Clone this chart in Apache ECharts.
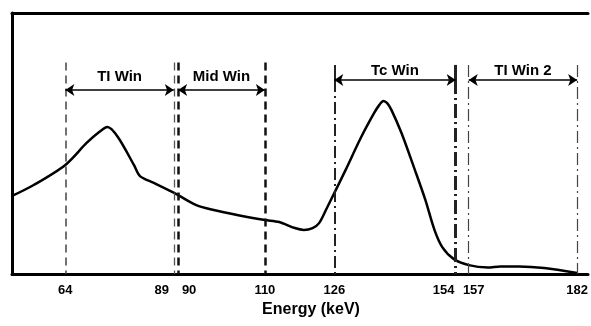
<!DOCTYPE html>
<html><head><meta charset="utf-8">
<script src="https://cdn.jsdelivr.net/npm/echarts@6/dist/echarts.min.js"></script>
<style>html,body{margin:0;padding:0;background:#fff}#c{width:591px;height:326px}</style>
</head><body><div id="c"></div>
<script>
// Spectrum curve (energy in keV, relative counts)
const energy = [51.7,56.7,64,68.9,71.8,73.7,76.1,79.8,81.2,84.4,89.5,94.2,98.2,103.6,110,113.3,116.9,119.0,121.0,122.5,124.3,126,128.6,132.1,135.2,136.4,137.3,138.2,139.2,141.5,144.6,147.0,149.1,150.9,153.5,157,161.4,164.3,168.6,174.4,182];
const counts = [29.9,34.1,41.8,50.2,54.4,56.3,52.5,41.8,37.5,34.9,30.7,26.4,24.5,22.6,20.7,19.9,17.6,16.9,17.6,19.5,25.3,31.0,39.8,52.1,61.7,64.8,66.3,65.5,62.8,54.0,39.8,28.4,16.9,10.3,5.8,3.4,2.5,2.9,2.9,2.3,0.4];
// Tick labels on the energy axis
const tickValues = [64, 89, 90, 110, 126, 154, 157, 182];
// Energy windows
const windowNames = ['TI Win', 'Mid Win', 'Tc Win', 'TI Win 2'];
const windowFrom = [64, 90, 126, 157];
const windowTo = [89, 110, 154, 182];

// ---- styling / layout (not data) ----
const F = 'Liberation Sans, Arial, Helvetica, sans-serif';
const boundaryStyle = {
  64:  {type:[8,5], width:1.5, color:'#444', top:81},
  89:  {type:[8,5], width:1.3, color:'#555', top:81},
  90:  {type:[8,5], width:2.5, color:'#111', top:81},
  110: {type:[8,5], width:2.5, color:'#111', top:81},
  126: {type:[12,4,2,4], width:2, color:'#222', top:74.3, stub:80.1},
  154: {type:[14,4,2,4], width:3, color:'#222', top:74.3, stub:80.1},
  157: {type:[12,4,2,4], width:1.2, color:'#444', top:80.1},
  182: {type:[12,4,2,4], width:1.2, color:'#444', top:80.1}
};
const arrowLevel = [70.5, 70.5, 74.3, 74.3];
const labelDist = [6, 6, 2, 2];
const labelShift = {89:'l', 90:'r', 154:'L', 157:'r2'};

const markData = [];
const bounds = [];
windowFrom.forEach((a,i)=>{ bounds.push(a); bounds.push(windowTo[i]); });
bounds.forEach(v=>{
  const s = boundaryStyle[v];
  markData.push([{coord:[v, s.top], lineStyle:{type:s.type, width:s.width, color:s.color}, label:{show:false}}, {coord:[v, 0]}]);
  if (s.stub) markData.push([{coord:[v, s.stub], lineStyle:{type:'solid', width:s.width, color:s.color}, label:{show:false}}, {coord:[v, s.top]}]);
});
const arrowData = windowNames.map((n,i)=>[
  {coord:[windowFrom[i], arrowLevel[i]], name:n,
   label:{show:true, position:'insideMiddleTop', distance:labelDist[i], formatter:n, color:'#000', fontFamily:F, fontWeight:'bold', fontSize:15}},
  {coord:[windowTo[i], arrowLevel[i]]}
]);

const chart = echarts.init(document.getElementById('c'), null, {renderer:'canvas'});
const tickFont = {fontFamily:F, fontWeight:'bold', fontSize:13, color:'#000'};
chart.setOption({
  animation:false,
  grid:{left:12, right:0, top:13, bottom:52},
  xAxis:[{
    type:'value', min:51.7, max:184.5,
    axisLine:{show:true, onZero:false, lineStyle:{color:'#000', width:3}},
    axisTick:{show:false}, splitLine:{show:false},
    axisLabel:{
      customValues: tickValues, margin:10, ...tickFont,
      formatter: v => labelShift[v] ? '{'+labelShift[v]+'|'+v+'}' : String(v),
      rich:{
        l:{...tickFont, padding:[0,24,0,0]},
        r:{...tickFont, padding:[0,0,0,22]},
        L:{...tickFont, padding:[0,24,0,0]},
        r2:{...tickFont, padding:[0,0,0,10]}
      }
    },
    name:'Energy (keV)', nameLocation:'middle', nameGap:26,
    nameTextStyle:{fontFamily:F, fontWeight:'bold', fontSize:16, color:'#000', padding:[0,0,0,22]}
  },{
    type:'value', position:'top', min:51.7, max:184.5,
    axisLine:{show:true, onZero:false, lineStyle:{color:'#000', width:3}},
    axisTick:{show:false}, axisLabel:{show:false}, splitLine:{show:false}
  }],
  yAxis:{
    type:'value', min:0, max:100,
    axisLine:{show:true, onZero:false, lineStyle:{color:'#000', width:3}},
    axisTick:{show:false}, axisLabel:{show:false}, splitLine:{show:false}
  },
  series:[{
    type:'line', data: energy.map((e,i)=>[e, counts[i]]),
    smooth:0.3, symbol:'none',
    lineStyle:{color:'#000', width:2.5},
    silent:true,
    markLine:{silent:true, symbol:'none', data: markData, animation:false},
    z:3
  },{
    type:'line', data:[], silent:true,
    markLine:{silent:true, symbol:['arrow','arrow'], symbolSize:[9,9],
      lineStyle:{type:'solid', width:1.5, color:'#000'}, data: arrowData, animation:false}
  }]
});
</script></body></html>
